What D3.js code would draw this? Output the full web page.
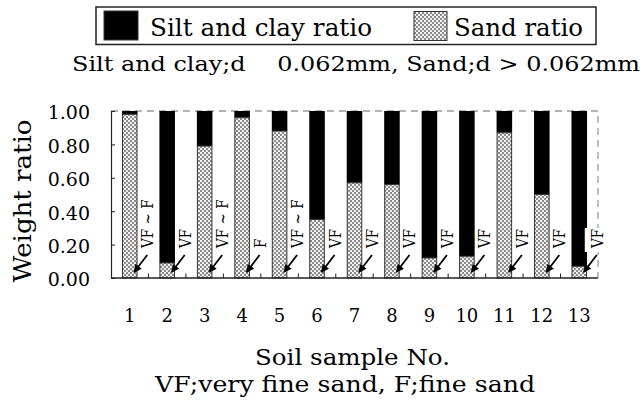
<!DOCTYPE html>
<html>
<head>
<meta charset="utf-8">
<script src="https://cdn.jsdelivr.net/npm/d3@7/dist/d3.min.js"></script>
<style>
  html, body { margin: 0; padding: 0; background: #fff; }
  svg { display: block; font-family: "DejaVu Serif", "Liberation Serif", serif; }
</style>
</head>
<body>
<svg id="chart" width="644" height="410"></svg>
<script>
// Soil samples and their sand fraction (silt and clay is the remainder to 1.00)
const samples = ["1", "2", "3", "4", "5", "6", "7", "8", "9", "10", "11", "12", "13"];
const sandRatio = [0.98, 0.09, 0.79, 0.96, 0.88, 0.35, 0.57, 0.56, 0.12, 0.13, 0.87, 0.50, 0.07];
const sandClass = ["VF ~ F", "VF", "VF ~ F", "F", "VF ~ F", "VF", "VF", "VF", "VF", "VF", "VF", "VF", "VF"];
const yTicks = [0, 0.2, 0.4, 0.6, 0.8, 1.0];
const seriesNames = ["Silt and clay ratio", "Sand ratio"];

const svg = d3.select("#chart");
const defs = svg.append("defs");

// Squeeze a text horizontally to a share of its natural width
function squeeze(sel, k) {
  sel.each(function () {
    const w = this.getComputedTextLength();
    d3.select(this).attr("textLength", w * k).attr("lengthAdjust", "spacingAndGlyphs");
  });
}

// Stipple fill for the sand part
const pat = defs.append("pattern")
  .attr("id", "stipple").attr("patternUnits", "userSpaceOnUse")
  .attr("width", 4).attr("height", 4);
pat.append("rect").attr("width", 4).attr("height", 4).attr("fill", "#8a8a8a");
pat.append("circle").attr("cx", 1).attr("cy", 1).attr("r", 1.1).attr("fill", "#fff");
pat.append("circle").attr("cx", 3).attr("cy", 3).attr("r", 1.1).attr("fill", "#fff");

defs.append("marker")
  .attr("id", "arrow").attr("viewBox", "0 0 10 10")
  .attr("refX", 9).attr("refY", 5)
  .attr("markerWidth", 8.5).attr("markerHeight", 8)
  .attr("markerUnits", "userSpaceOnUse")
  .attr("orient", "auto")
  .append("path").attr("d", "M0,0 L10,5 L0,10 z").attr("fill", "#000");

const plot = { left: 111, right: 598, top: 111, bottom: 278 };

const x = d3.scaleBand()
  .domain(samples)
  .range([plot.left, plot.right])
  .paddingInner(0.585)
  .paddingOuter(0.2925);

const y = d3.scaleLinear().domain([0, 1]).range([plot.bottom, plot.top]);

// Dashed frame on top and right
svg.append("path")
  .attr("d", `M${plot.left},${y(1)}H${plot.right}V${plot.bottom}`)
  .attr("fill", "none").attr("stroke", "#9a9a9a")
  .attr("stroke-width", 1.3).attr("stroke-dasharray", "7,5");

// Stacked bars
const rows = samples.map((s, i) => ({ s, sand: sandRatio[i], cls: sandClass[i] }));
const g = svg.append("g");
g.selectAll("rect.silt").data(rows).join("rect")
  .attr("class", "silt")
  .attr("x", d => x(d.s)).attr("width", x.bandwidth())
  .attr("y", y(1)).attr("height", d => y(d.sand) - y(1))
  .attr("fill", "#000");
g.selectAll("rect.sand").data(rows).join("rect")
  .attr("class", "sand")
  .attr("x", d => x(d.s) + 0.5).attr("width", x.bandwidth() - 1)
  .attr("y", d => y(d.sand)).attr("height", d => y(0) - y(d.sand))
  .attr("fill", "url(#stipple)").attr("stroke", "#333").attr("stroke-width", 1);

// Sand class annotations with arrows pointing at the sand part
const ann = svg.append("g");
rows.forEach((d, i) => {
  const cx = x(d.s) + x.bandwidth() / 2;
  if (i === rows.length - 1) {
    // last label sits over the frame, so it gets a white backing
    ann.append("rect")
      .attr("x", cx + 5.5).attr("y", 228)
      .attr("width", 22).attr("height", 24)
      .attr("fill", "#fff");
  }
  ann.append("text")
    .attr("transform", `translate(${cx + 23.5},248) rotate(-90)`)
    .attr("font-size", 17).attr("text-anchor", "start")
    .attr("xml:space", "preserve").style("white-space", "pre")
    .text(d.cls)
    .call(squeeze, 0.8);
  ann.append("line")
    .attr("x1", cx + 17.5).attr("y1", 255)
    .attr("x2", cx + 4.5).attr("y2", 272)
    .attr("stroke", "#000").attr("stroke-width", 1.8)
    .attr("marker-end", "url(#arrow)");
});

// Y axis: inner ticks, labels on the left
const yAxis = svg.append("g").attr("transform", `translate(${plot.left},0)`)
  .call(d3.axisLeft(y).tickValues(yTicks).tickSizeInner(-4).tickSizeOuter(0)
    .tickFormat(d3.format(".2f")).tickPadding(21));
yAxis.select(".domain").attr("stroke", "#222").attr("stroke-width", 1.2);
yAxis.selectAll(".tick line").attr("stroke", "#222");
yAxis.selectAll(".tick text")
  .attr("font-family", "DejaVu Serif").attr("font-size", 19)
  .attr("fill", "#000").attr("dy", "0.42em");

// X axis: ticks on band boundaries, pointing up
const bounds = samples.map(s => x(s) - x.step() * x.paddingInner() / 2).slice(1);
const xAxis = svg.append("g").attr("transform", `translate(0,${plot.bottom})`);
xAxis.append("line")
  .attr("x1", plot.left).attr("x2", plot.right)
  .attr("stroke", "#222").attr("stroke-width", 1.5);
xAxis.selectAll("line.tk").data(bounds).join("line")
  .attr("class", "tk")
  .attr("x1", d => d).attr("x2", d => d).attr("y1", 0).attr("y2", -4.5)
  .attr("stroke", "#222");
xAxis.selectAll("text").data(samples).join("text")
  .attr("x", d => x(d) + x.bandwidth() / 2).attr("y", 44)
  .attr("text-anchor", "middle").attr("font-size", 18)
  .text(d => d);

// Axis titles
svg.append("text")
  .attr("transform", "translate(31,201) rotate(-90)")
  .attr("text-anchor", "middle").attr("font-size", 24)
  .attr("textLength", 163).attr("lengthAdjust", "spacingAndGlyphs")
  .text("Weight ratio");
svg.append("text")
  .attr("x", 255).attr("y", 365).attr("font-size", 22)
  .attr("textLength", 195).attr("lengthAdjust", "spacingAndGlyphs")
  .text("Soil sample No.");
svg.append("text")
  .attr("x", 155).attr("y", 392).attr("font-size", 22)
  .attr("textLength", 380).attr("lengthAdjust", "spacingAndGlyphs")
  .text("VF;very fine sand, F;fine sand");

// Size definitions under the legend (the symbol between d and 0.062 is left blank)
svg.append("text")
  .attr("x", 72).attr("y", 71).attr("font-size", 21)
  .attr("xml:space", "preserve").style("white-space", "pre")
  .attr("textLength", 568).attr("lengthAdjust", "spacingAndGlyphs")
  .text("Silt and clay;d\u2003 0.062mm, Sand;d > 0.062mm");

// Legend
const lg = svg.append("g");
lg.append("rect")
  .attr("x", 96).attr("y", 7).attr("width", 500).attr("height", 37.5)
  .attr("fill", "#fff").attr("stroke", "#222").attr("stroke-width", 1.5);
lg.append("rect").attr("x", 104).attr("y", 11).attr("width", 34).attr("height", 29)
  .attr("fill", "#000").attr("stroke", "#333");
lg.append("text").attr("x", 150).attr("y", 36).attr("font-size", 24)
  .attr("textLength", 222).attr("lengthAdjust", "spacingAndGlyphs")
  .text(seriesNames[0]);
lg.append("rect").attr("x", 414).attr("y", 11.5).attr("width", 33).attr("height", 29)
  .attr("fill", "url(#stipple)").attr("stroke", "#333");
lg.append("text").attr("x", 454).attr("y", 36).attr("font-size", 24)
  .attr("textLength", 129).attr("lengthAdjust", "spacingAndGlyphs")
  .text(seriesNames[1]);
</script>
</body>
</html>
